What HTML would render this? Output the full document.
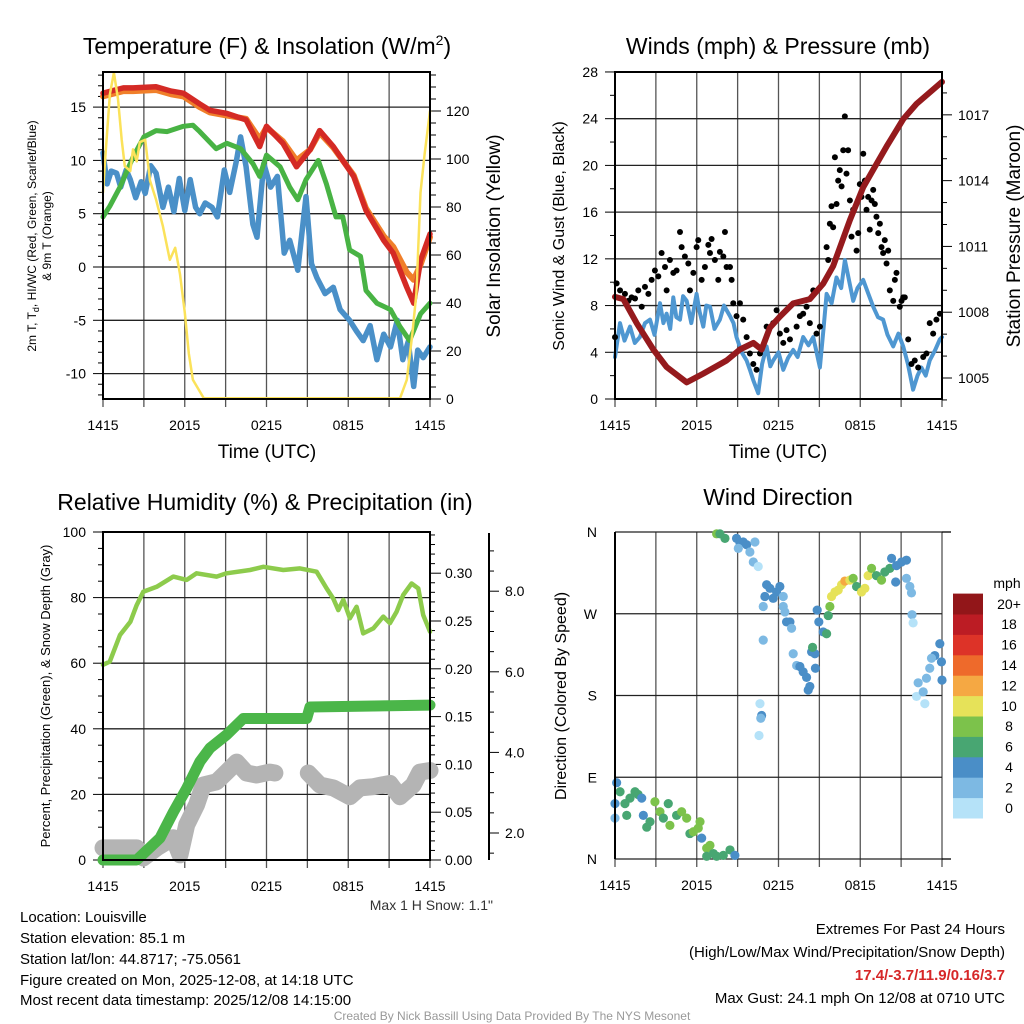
<!DOCTYPE html>
<html><head><meta charset="utf-8"><style>
html,body{margin:0;padding:0;background:#fff;}
svg{display:block;font-family:"Liberation Sans",Arial,sans-serif;}
</style></head><body>
<svg id="root" width="1024" height="1024" viewBox="0 0 1024 1024" xmlns="http://www.w3.org/2000/svg">
<g id="g1"></g>
<g id="g2"></g>
<g id="g3"></g>
<g id="g4"></g>
<g id="txt" font-size="15" fill="#000">
<text x="267" y="54" font-size="23" text-anchor="middle">Temperature (F) &amp; Insolation (W/m<tspan dy="-9" font-size="14">2</tspan><tspan dy="9">)</tspan></text>
<text x="778" y="54" font-size="23" text-anchor="middle">Winds (mph) &amp; Pressure (mb)</text>
<text x="265" y="510" font-size="23" text-anchor="middle">Relative Humidity (%) &amp; Precipitation (in)</text>
<text x="778" y="505" font-size="23" text-anchor="middle">Wind Direction</text>
<text x="267" y="458" font-size="19" text-anchor="middle">Time (UTC)</text>
<text x="778" y="458" font-size="19" text-anchor="middle">Time (UTC)</text>
<text transform="translate(36,236) rotate(-90)" font-size="12" text-anchor="middle">2m T, T<tspan dy="3" font-size="9">d</tspan><tspan dy="-3">, HI/WC (Red, Green, Scarlet/Blue)</tspan></text>
<text transform="translate(51,236) rotate(-90)" font-size="12" text-anchor="middle">&amp; 9m T (Orange)</text>
<text transform="translate(500,236) rotate(-90)" font-size="19" text-anchor="middle">Solar Insolation (Yellow)</text>
<text transform="translate(564,236) rotate(-90)" font-size="16" text-anchor="middle">Sonic Wind &amp; Gust (Blue, Black)</text>
<text transform="translate(1020,236) rotate(-90)" font-size="19" text-anchor="middle">Station Pressure (Maroon)</text>
<text transform="translate(50,696) rotate(-90)" font-size="13" text-anchor="middle">Percent, Precipitation (Green), &amp; Snow Depth (Gray)</text>
<text transform="translate(566,696) rotate(-90)" font-size="16" text-anchor="middle">Direction (Colored By Speed)</text>
<text x="493" y="910" font-size="14" text-anchor="end" fill="#333">Max 1 H Snow: 1.1"</text>
<g>
<text x="20" y="922">Location: Louisville</text>
<text x="20" y="943">Station elevation: 85.1 m</text>
<text x="20" y="964">Station lat/lon: 44.8717; -75.0561</text>
<text x="20" y="985">Figure created on Mon, 2025-12-08, at 14:18 UTC</text>
<text x="20" y="1005">Most recent data timestamp: 2025/12/08 14:15:00</text>
</g>
<g text-anchor="end">
<text x="1005" y="934">Extremes For Past 24 Hours</text>
<text x="1005" y="957">(High/Low/Max Wind/Precipitation/Snow Depth)</text>
<text x="1005" y="980" fill="#d62728" font-weight="bold">17.4/-3.7/11.9/0.16/3.7</text>
<text x="1005" y="1003">Max Gust: 24.1 mph On 12/08 at 0710 UTC</text>
</g>
<text x="512" y="1020" font-size="12" fill="#999" text-anchor="middle">Created By Nick Bassill Using Data Provided By The NYS Mesonet</text>
</g>
</svg>
<script>
// ---- Panel 1 data ----
const tempTimes=[0,1.5,2.2,3.9,5,5.9,7.1,7.85,9.1,10.5,11.5,12.0,13.2,14.2,15.2,15.9,16.9,18.4,19.3,20.6,21.3,22.3,22.8,23.3,24];
const tempVals=[16.3,16.8,16.8,16.9,16.5,16.3,15.3,14.7,14.4,13.8,11.3,13.2,11.6,9.4,11.0,12.8,11.3,8.5,5.3,2.5,1.3,-1.9,-3.4,0.6,3.1];
const t9Times=[0,1.5,2.2,3.9,5,5.9,7.1,7.85,9.1,10.5,11.5,12.0,13.2,14.2,15.2,15.9,16.9,18.4,19.3,20.6,21.3,22.3,22.8,23.3,24];
const t9Vals=[16.0,16.5,16.5,16.6,16.2,16.0,15.0,14.5,14.2,13.9,12.0,13.1,11.8,10.0,11.0,12.6,11.2,8.6,5.5,2.9,1.9,-0.5,-1.2,0.2,2.8];
const hiTimes=[0,0.5,1.25,2.2,3.0,3.9,4.7,5.9,6.6,7.1,8.3,9.1,10.1,11.0,11.5,12.0,13.0,13.7,14.3,14.9,15.8,16.4,17.1,17.6,18.1,18.9,19.3,20.1,21.1,21.8,22.5,23.3,24];
const hiVals=[4.7,5.7,7.5,10.3,12.2,12.8,12.7,13.2,13.3,12.7,11.1,11.6,11.1,9.7,8.5,10.5,9.4,7.5,6.3,8.2,10.0,7.8,4.7,4.7,1.6,1.0,-2.2,-3.4,-4.0,-5.6,-6.9,-4.4,-3.4];
const tdTimes=[0,0.3,0.6,1.0,1.3,1.7,2.0,2.4,2.8,3.1,3.5,3.9,4.4,4.8,5.2,5.6,6.0,6.4,6.8,7.1,7.5,8.0,8.4,8.9,9.3,9.8,10.1,10.5,11.0,11.3,11.8,12.3,12.8,13.3,13.7,14.3,14.9,15.3,15.7,16.3,16.9,17.4,18.1,18.6,19.1,19.6,20.1,20.6,21.1,21.6,22.0,22.4,22.8,23.1,23.5,24];
const tdVals=[10.7,7.8,9.0,8.8,7.5,9.1,8.2,6.5,8.0,6.9,9.5,8.8,5.6,7.5,5.2,8.3,5.3,8.2,5.6,5.0,6.0,5.6,4.7,9.1,7.0,10.0,12.2,9.4,4.0,2.8,9.7,7.5,8.5,1.3,2.5,-0.3,6.6,0.3,-1.0,-2.5,-1.9,-4.0,-5.0,-6.0,-6.9,-5.5,-8.7,-6.3,-7.5,-5.0,-8.7,-7.0,-11.2,-7.8,-8.5,-7.5];
const solTimes=[0,0.15,0.51,0.8,1.1,1.37,1.6,2.0,2.2,2.47,2.7,3.1,3.45,3.9,4.4,4.9,5.3,5.65,6.0,6.3,6.6,7.4,21.8,22.3,22.7,23.0,23.3,23.6,24];
const solVals=[86,99,127,136,125,108,97,95,104,99,107,108,91,83,72,58,63,52,36,19,8,0.3,0.3,8,27,44,86,102,120];
// ---- Panel 2 data ----
const presTimes=[0,0.61,1.59,2.81,3.79,5.26,6.48,8.19,9.17,10.15,10.76,11.37,12.1,13.08,14.3,15.28,16.01,17.24,18.22,18.95,19.93,21.15,22.13,24];
const presVals=[1008.7,1008.6,1007.5,1006.3,1005.5,1004.8,1005.2,1005.8,1006.3,1006.6,1006.3,1007.3,1007.8,1008.4,1008.6,1009.3,1010.1,1012.2,1013.7,1014.5,1015.55,1016.8,1017.5,1018.5];
const windTimes=[0,0.37,0.7,1.1,1.45,1.83,2.2,2.57,2.9,3.3,3.55,3.79,4.05,4.28,4.5,4.77,5.0,5.26,5.6,5.99,6.2,6.48,6.7,6.97,7.3,7.7,8.0,8.44,8.7,8.92,9.3,9.66,9.9,10.15,10.51,10.8,11.13,11.4,11.61,12.0,12.35,12.7,13.08,13.4,13.81,14.2,14.55,14.8,15.04,15.3,15.53,15.9,16.26,16.6,16.87,17.2,17.48,17.8,18.22,18.6,18.95,19.3,19.68,20.0,20.42,20.8,21.15,21.5,21.88,22.2,22.49,22.8,23.1,23.5,23.84,24];
const windVals=[3.6,6.5,5.0,6.2,4.8,5.3,6.5,6.8,5.5,8.2,6.5,7.3,6.0,8.7,7.0,6.8,8.8,8.4,6.5,9.0,7.5,6.2,8.0,7.9,6.0,6.8,8.0,7.1,6.5,5.3,4.0,3.3,2.5,1.6,0.5,3.0,4.5,2.8,3.3,4.0,2.5,3.5,4.2,3.6,5.3,4.6,5.3,4.0,2.7,6.0,9.0,8.2,10.4,9.5,11.9,10.0,8.4,9.5,10.2,9.0,7.9,7.0,6.8,5.5,4.5,5.6,4.5,3.0,0.8,2.0,2.7,2.0,3.3,4.2,5.1,5.3];
const gustTimes=[0,0.12,0.37,0.73,0.98,1.22,1.47,1.71,1.96,2.2,2.45,2.69,2.93,3.18,3.42,3.67,3.79,4.03,4.28,4.52,4.77,4.89,5.13,5.38,5.5,5.75,5.99,6.11,6.36,6.6,6.85,6.97,7.09,7.33,7.58,7.7,7.95,8.07,8.19,8.44,8.56,8.68,8.92,9.17,9.41,9.66,9.9,10.15,10.39,10.64,11.13,11.61,11.86,12.1,12.35,12.59,12.84,13.33,13.57,13.81,14.06,14.3,14.55,14.79,15.04,15.53,15.65,15.77,15.89,16.01,16.14,16.26,16.38,16.5,16.63,16.75,16.87,16.99,17.11,17.24,17.36,17.48,17.73,17.85,17.97,18.09,18.22,18.34,18.46,18.58,18.7,18.83,18.95,19.07,19.19,19.32,19.44,19.56,19.68,19.8,19.93,20.05,20.17,20.42,20.54,20.66,20.9,21.03,21.15,21.27,21.52,21.76,22.0,22.25,22.62,22.86,23.1,23.35,23.59,23.84];
const gustVals=[5.3,9.9,9.3,9.0,8.4,8.7,8.6,9.3,7.9,9.6,9.0,10.2,11.0,10.5,12.5,11.3,9.3,11.9,10.8,11.0,14.3,13.0,12.2,11.6,9.3,10.8,13.0,13.6,10.2,11.3,13.2,12.5,13.7,11.9,10.2,12.6,12.2,14.3,11.3,11.3,10.2,8.2,7.1,8.2,6.8,5.3,3.9,3.0,2.5,3.9,6.2,6.5,7.6,5.6,4.8,5.9,5.1,6.2,7.1,7.3,7.9,6.5,9.3,5.6,6.2,13.0,11.9,15.0,16.5,14.7,20.7,16.7,18.7,19.6,18.2,21.3,24.2,19.3,21.3,17.0,13.9,16.2,12.7,14.2,18.4,17.3,21.0,18.7,16.2,17.3,14.5,17.0,17.9,16.7,15.6,14.2,15.0,13.0,12.5,13.6,11.6,12.7,9.3,8.4,10.2,10.8,7.9,8.4,8.7,8.7,5.1,3.0,3.3,2.7,3.6,3.9,6.5,5.6,6.8,7.3];
// ---- Panel 3 data ----
const rhTimes=[0,0.5,1.25,2.0,2.47,2.96,3.94,5.16,6.14,6.87,8.34,9.07,10.79,11.77,13.23,14.46,15.68,16.41,16.9,17.27,17.64,18.12,18.61,19.1,19.84,20.57,21.06,21.55,22.03,22.65,23.14,23.5,24];
const rhVals=[59.5,60.5,68.6,72.6,77.7,81.8,83.3,86.4,85.4,87.4,86.4,87.4,88.4,89.4,88.4,88.9,87.9,82.8,79.7,76.2,79.3,73.7,77.2,69.1,70.6,74.2,72.2,75.7,80.8,84.3,82.8,74.7,69.6];
const precipTimes=[0,2.47,4.18,5.16,6.14,7.12,7.85,9.07,10.3,14.95,15.19,24];
const precipVals=[0,0,0.023,0.05,0.075,0.103,0.117,0.131,0.148,0.148,0.16,0.162];
const snowTimes1=[0,2.47,2.96,3.94,5.16,5.65,6.14,6.87,7.36,8.34,9.07,9.81,10.54,11.28,12.25,12.62];
const snowVals1=[1.63,1.63,1.38,1.63,1.88,1.46,2.2,2.7,3.19,3.27,3.51,3.76,3.49,3.44,3.51,3.49];
const snowTimes2=[15.07,15.92,16.9,18.12,18.86,19.84,21.06,21.79,22.77,23.26,24];
const snowVals2=[3.49,3.19,3.12,2.9,3.12,3.15,3.23,2.9,3.19,3.51,3.55];
// ---- Panel 4 data ----
const dirTimes=[0.12,0.37,0,0,0.73,1.1,1.47,1.7,1.96,0.86,2.08,2.33,2.57,2.93,3.3,3.55,3.91,4.03,4.52,4.89,5.26,5.5,5.75,6.24,6.11,6.36,6.73,6.97,7.22,7.46,7.95,8.44,8.8,6.73,7.46,7.7,8.07,8.92,9.17,9.41,9.66,9.05,9.9,10.27,10.15,10.51,11.13,11.37,11.86,12.1,11.0,11.61,12.35,10.88,12.35,12.47,12.59,12.84,12.96,10.88,13.08,13.33,13.57,13.81,14.06,14.3,14.18,14.43,14.67,14.5,14.71,10.64,10.76,10.7,10.57,14.84,14.96,15.28,15.53,15.65,15.77,15.89,16.14,16.38,16.63,16.87,17.24,17.48,17.73,18.09,18.34,18.58,18.83,19.19,19.56,19.8,20.17,20.3,20.66,21.03,21.39,20.6,21.39,21.64,21.76,21.8,21.88,23.84,23.47,23.23,23.96,23.1,22.86,22.25,22.13,22.62,22.74,24.0];
const dirVals=[84,74,61,45,61,67,74,71,67,48,48,35,41,63,52,45,61,37,48,52,45,28,30,41,34,23,12,15,6,3,4,10,4,3,358,358,353,353,348,349,346,342,338,349,327,322,302,298,294,300,289,287,289,278,278,272,261,261,254,241,226,213,212,206,200,190,186,228,226,233,210,171,158,155,136,274,261,250,248,268,278,289,294,296,302,306,307,309,300,294,298,312,320,312,307,316,320,331,323,327,329,305,309,300,293,269,260,237,224,221,217,210,199,194,179,184,171,197];
const dirSpeeds=[5,7,5,3,7,7,7,7,5,7,5,7,7,9,9,7,7,9,7,9,9,7,9,9,9,5,9,9,7,7,7,7,5,7,9,7,7,5,5,5,5,3,3,3,3,1,5,5,5,5,5,5,3,3,3,3,5,5,3,3,3,3,5,5,5,5,5,5,5,7,5,1,5,3,1,5,5,5,7,7,9,11,11,11,11,13,11,9,7,11,11,11,9,7,9,7,7,5,5,5,5,5,3,3,3,3,1,5,5,3,5,3,3,3,1,3,1,5];
const speedBins=[0,2,4,6,8,10,12,14,16,18,20];
const binColors=["#b5e2f8","#7db9e3","#4a8ec7","#48a672","#7cc24b","#e6e259","#f5a843","#ee6a2b","#dd3328","#bc1c24","#921619"];
const binLabels=["0","2","4","6","8","10","12","14","16","18","20+"];
const hourTicks=[0,6,12,18,24];
const hourLabels=["1415","2015","0215","0815","1415"];

const NS="http://www.w3.org/2000/svg";
function el(tag,parent){const e=document.createElementNS(NS,tag);parent.appendChild(e);return e;}
function line(p,x1,y1,x2,y2,st,w){const l=el('line',p);l.setAttribute('x1',x1);l.setAttribute('y1',y1);l.setAttribute('x2',x2);l.setAttribute('y2',y2);l.setAttribute('stroke',st);l.setAttribute('stroke-width',w);return l;}
function text(p,x,y,s,anchor,size){const t=el('text',p);t.setAttribute('x',x);t.setAttribute('y',y);t.setAttribute('text-anchor',anchor);t.setAttribute('font-size',size||14);t.textContent=s;return t;}
function path(p,xs,ys,fx,fy,col,w){let d='';for(let i=0;i<xs.length;i++)d+=(i?'L':'M')+fx(xs[i]).toFixed(1)+','+fy(ys[i]).toFixed(1);const e=el('path',p);e.setAttribute('d',d);e.setAttribute('fill','none');e.setAttribute('stroke',col);e.setAttribute('stroke-width',w);e.setAttribute('stroke-linejoin','round');e.setAttribute('stroke-linecap','round');return e;}

function frame(g,x0,x1,y0,y1,hy,fx){
  for(const h of [0,3,6,9,12,15,18,21,24]){const l=line(g,fx(h),y0,fx(h),y1+8,'#555',1.3);
  
  }
  for(const y of hy){const l=line(g,x0,y,x1,y,'#222',1.3);
  
  }
  hourTicks.forEach((h,i)=>{const t=text(g,fx(h),y1+31,hourLabels[i],'middle',14);
  
  });
}
function box(g,x0,x1,y0,y1){const r=el('rect',g);r.setAttribute('x',x0);r.setAttribute('y',y0);r.setAttribute('width',x1-x0);r.setAttribute('height',y1-y0);r.setAttribute('fill','none');r.setAttribute('stroke','#000');r.setAttribute('stroke-width',2);

}

// Panel 1
(function(){
const g=document.getElementById('g1');
const fx=h=>103+h*13.625, fy=v=>267-v*10.66, fs=v=>399-v*2.4;
frame(g,103,430,72,399,[-10,-5,0,5,10,15].map(fy),fx);
[15,10,5,0,-5,-10].forEach(v=>{const t=text(g,86,fy(v)+5,String(v),'end',14);

});
for(let v=0;v<=135;v+=5){line(g,430,fs(v),v%20==0?441:436,fs(v),'#000',1);}
for(let v=-12;v<=18;v+=1){line(g,103,fy(v),v%5==0?93:98,fy(v),'#000',1);}
[0,20,40,60,80,100,120].forEach(v=>{const t=text(g,446,fs(v)+5,String(v),'start',14);

});
let p;
p=path(g,tdTimes,tdVals,fx,fy,'#4a90c8',5.5);


p=path(g,hiTimes,hiVals,fx,fy,'#48b344',5);


p=path(g,t9Times,t9Vals,fx,fy,'#f07f2a',6);


p=path(g,tempTimes,tempVals,fx,fy,'#d42a25',5.5);


p=path(g,solTimes,solVals,fx,fs,'#fbe25a',2.5);


box(g,103,430,72,399);
})();

// Panel 2
(function(){
const g=document.getElementById('g2');
const fx=h=>615+h*13.625, fy=v=>399-v*11.68, fp=p=>378-(p-1005)*21.93;
frame(g,615,942,72,399,[0,4,8,12,16,20,24,28].map(fy),fx);
[0,4,8,12,16,20,24,28].forEach(v=>{const t=text(g,598,fy(v)+5,String(v),'end',14);

});
for(let v=0;v<=28;v+=2){line(g,615,fy(v),v%4==0?605:610,fy(v),'#000',1);}
for(let p=1004;p<=1018;p+=1){line(g,942,fp(p),p%3==0?952:947,fp(p),'#000',1);}
[1005,1008,1011,1014,1017].forEach(v=>{const t=text(g,958,fp(v)+5,String(v),'start',14);

});
let p=path(g,windTimes,windVals,fx,fy,'#4f97d1',4);


gustTimes.forEach((t,i)=>{const c=el('circle',g);c.setAttribute('cx',fx(t));c.setAttribute('cy',fy(gustVals[i]));c.setAttribute('r',3);c.setAttribute('fill','#000');

});
p=path(g,presTimes,presVals,fx,fp,'#951a1d',6);


box(g,615,942,72,399);
})();

// Panel 3
(function(){
const g=document.getElementById('g3');
const fx=h=>103+h*13.625, fy=v=>860-v*3.28, fp=p=>860-p*956, fsn=s=>833-(s-2)*40.3;
frame(g,103,430,532,860,[20,40,60,80].map(fy),fx);
[0,20,40,60,80,100].forEach(v=>{const t=text(g,86,fy(v)+5,String(v),'end',14);

});
for(let v=0;v<=100;v+=5){line(g,103,fy(v),v%20==0?93:98,fy(v),'#000',1);}
for(let i=0;i<=34;i++){const v=i*0.01;line(g,430,fp(v),i%5==0?441:435,fp(v),'#000',1);}
[0,0.05,0.1,0.15,0.2,0.25,0.3].forEach(v=>{const t=text(g,445,fp(v)+5,v.toFixed(2),'start',14);

});
const ax=line(g,489,533,489,860,'#000',2);


for(let s=1.5;s<=9.5;s+=0.5){const y=fsn(s);if(y<534||y>859)continue;line(g,489,y,s%2==0?499:494,y,'#000',1);}
[2,4,6,8].forEach(v=>{const t=text(g,505,fsn(v)+5,v.toFixed(1),'start',14);

});
let p=path(g,snowTimes1,snowVals1,fx,fsn,'#b4b4b4',17);


p=path(g,snowTimes2,snowVals2,fx,fsn,'#b4b4b4',17);


p=path(g,precipTimes,precipVals,fx,fp,'#4bb649',11);


p=path(g,rhTimes,rhVals,fx,fy,'#8dcb4c',4.5);


box(g,103,430,532,860);
})();

// Panel 4
(function(){
const g=document.getElementById('g4');
const fx=h=>615+h*13.625, fy=d=>859-d*0.9083;
frame(g,615,942,532,859,[0,90,180,270,360].map(fy),fx);
line(g,942,532,951,532,'#000',1.3);line(g,942,859,951,859,'#000',1.3);
[0,90,180,270,360].forEach((d,i)=>{const t=text(g,597,fy(d)+5,['N','E','S','W','N'][i],'end',14);

});
function col(s){let k=0;for(let i=0;i<speedBins.length;i++)if(s>=speedBins[i])k=i;return binColors[k];}
dirTimes.forEach((t,i)=>{const c=el('circle',g);c.setAttribute('cx',fx(t));c.setAttribute('cy',fy(dirVals[i]));c.setAttribute('r',4.6);c.setAttribute('fill',col(dirSpeeds[i]));

});
line(g,615,532,615,859,'#000',2);
const bh=20.4;
binColors.forEach((c,i)=>{const r=el('rect',g);const y=818-(i+1)*bh;r.setAttribute('x',953);r.setAttribute('y',y);r.setAttribute('width',30);r.setAttribute('height',bh+0.5);r.setAttribute('fill',c);


const t=text(g,1009,y+bh/2+5,binLabels[i],'middle',14);

});
const m=text(g,1007,588,'mph','middle',14);


})();
</script>
</body></html>
